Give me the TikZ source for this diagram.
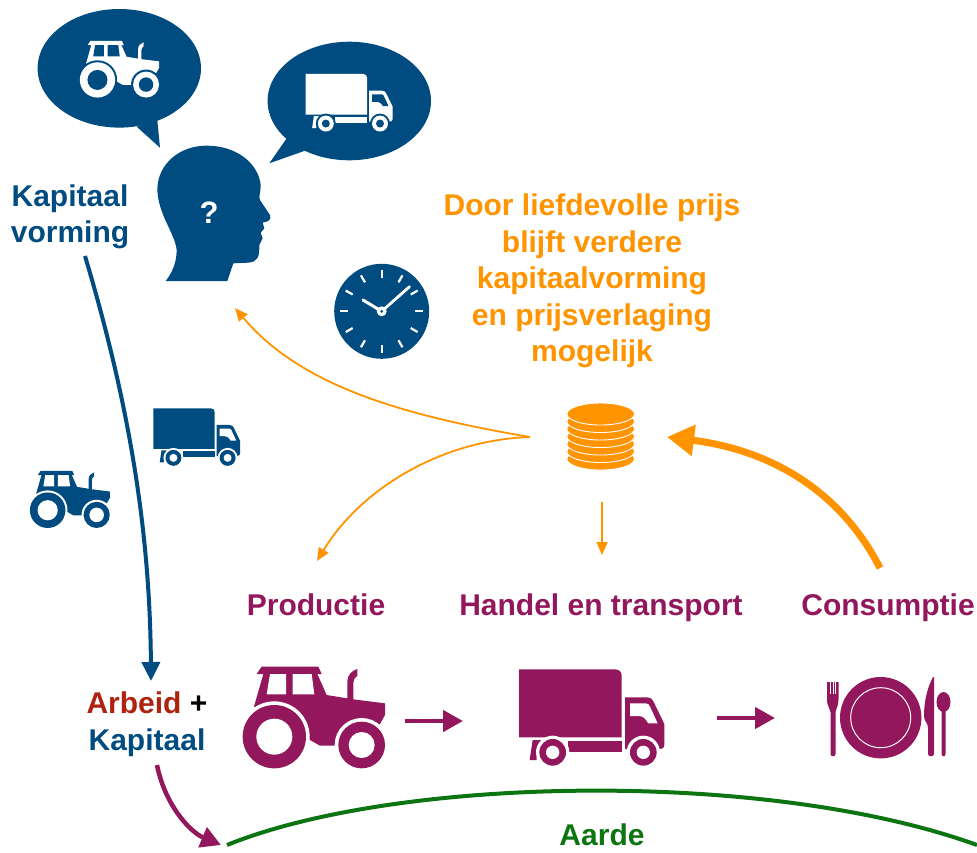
\documentclass[tikz,border=0pt]{standalone}
\usepackage{fontspec}
\setmainfont{Liberation Sans}
\usetikzlibrary{arrows.meta}
\definecolor{dblue}{HTML}{004C80}
\definecolor{dorange}{HTML}{FF9400}
\definecolor{dpurple}{HTML}{92175C}
\definecolor{dgreen}{HTML}{0C7410}
\definecolor{dred}{HTML}{AE2310}
\tikzset{
  iconfg/.store in=\iconfg, iconfg=dblue,
  iconbg/.store in=\iconbg, iconbg=white,
  tractoricon/.pic={
    \fill[\iconfg] (95,50)--(265,50)--(275,72)--(80,72)--cycle;
    \fill[\iconfg] (100,72)--(72,170)--(240,270)--(270,287)--(315,287)--(330,240)--(450,222)--(465,195)--(465,160)--(370,148)--(290,135)--(262,72)--cycle;
    \fill[\iconfg] (72,170)--(130,150)--(240,270)--cycle;
    \fill[\iconbg] (120,72)--(168,72)--(168,133)--(110,133)--cycle;
    \fill[\iconbg] (188,72)--(245,72)--(253,133)--(188,133)--cycle;
    \fill[\iconfg] (352,150)--(352,95) .. controls (352,75) and (365,62) .. (382,57)--(382,78) .. controls (372,85) and (370,90) .. (370,100)--(370,150)--cycle;
    \fill[\iconbg] (133,260) circle[radius=106];
    \fill[\iconfg] (133,260) circle[radius=95];
    \fill[\iconbg] (133,260) circle[radius=54];
    \fill[\iconbg] (395,285) circle[radius=81];
    \fill[\iconfg] (395,285) circle[radius=70];
    \fill[\iconbg] (395,285) circle[radius=39];
  },
  truckicon/.pic={
    \fill[\iconfg] (867,58)--(1155,58) .. controls (1168,58) and (1175,66) .. (1175,78)--(1175,262)--(867,262)--cycle;
    \fill[\iconfg] (1015,272)--(1175,272)--(1175,305)--(1015,305)--cycle;
    \fill[\iconfg] (908,270)--(935,270) .. controls (925,285) and (920,305) .. (920,330)--(899,330)--cycle;
    \fill[\iconfg] (1185,142)--(1250,142) .. controls (1262,142) and (1268,148) .. (1272,158)--(1303,222)--(1303,285) .. controls (1303,295) and (1295,297) .. (1285,297)--(1185,297)--cycle;
    \fill[\iconbg] (1200,160)--(1248,160) .. controls (1255,160) and (1258,165) .. (1260,170)--(1283,220)--(1255,220) .. controls (1245,205) and (1240,198) .. (1225,198)--(1200,198)--cycle;
    \fill[\iconbg] (968,307) circle[radius=50];
    \fill[\iconfg] (968,307) circle[radius=40];
    \fill[\iconbg] (968,307) circle[radius=20];
    \fill[\iconbg] (1240,307) circle[radius=50];
    \fill[\iconfg] (1240,307) circle[radius=40];
    \fill[\iconbg] (1240,307) circle[radius=20];
  },
  label/.style={inner sep=0pt,font=\fontsize{30}{36.5}\selectfont\bfseries,align=center},
  thinor/.style={draw=dorange,line width=1.8pt,-{Triangle[length=13pt,width=11pt]}},
  thickpur/.style={draw=dpurple,line width=4.5pt,-{Triangle[length=20pt,width=21pt]}},
}
\begin{document}
\begin{tikzpicture}[x=1pt,y=-1pt]
\useasboundingbox (0,0) rectangle (977,852);
% bubbles
\fill[dblue] (119.3,68.3) ellipse[x radius=81.7,y radius=59.3];
\fill[dblue] (136.7,126.7)--(160,147.7)--(157.3,120)--cycle;
\fill[dblue] (349.3,101) ellipse[x radius=81.7,y radius=59.3];
\fill[dblue] (286.7,138.3)--(269.3,163.3)--(305,150.7)--cycle;
\pic[iconfg=white,iconbg=dblue,scale=.1855] at (72.8,31.7) {tractoricon};
\pic[iconfg=white,iconbg=dblue,scale=.1992] at (133,62.4) {truckicon};
% head
\fill[dblue,shift={(20,0)},scale=1/3] (437,843) .. controls (455,820) and (470,790) .. (470,750)
  .. controls (465,700) and (412,640) .. (412,565)
  .. controls (415,490) and (480,437) .. (560,437)
  .. controls (650,437) and (715,490) .. (722,555)
  .. controls (722,580) and (715,590) .. (720,600)
  -- (750,645) .. controls (755,660) and (745,665) .. (728,668)
  -- (733,685) -- (722,698) -- (728,715) -- (718,735)
  .. controls (718,770) and (715,785) .. (685,788)
  -- (640,790) -- (622,843) -- cycle;
\node[text=white,inner sep=0pt,font=\fontsize{31}{31}\selectfont\bfseries] (q) at (209,213) {?};
% clock
\fill[dblue] (381.7,311.3) circle[radius=47.5];
\foreach \a in {0,30,...,330}
  \draw[white,line width=2.2pt] (381.7,311.3)+(\a:33.5) -- +(\a:41.5);
\draw[white,line width=2.8pt,line cap=round] (381.7,311.3) -- (409.5,286.7);
\draw[white,line width=3pt,line cap=round] (381.7,311.3) -- (363,300);
\fill[white] (381.7,311.3) circle[radius=5];
\fill[dblue] (381.7,311.3) circle[radius=1.5];
% coins
\foreach \y in {459,451.5,444,436.5,429,421.5,414}
  \filldraw[fill=dorange,draw=white,line width=.9pt] (600.7,\y) ellipse[x radius=33.8,y radius=11];
% texts
\node[label,text=dblue] (kv) at (70,217) {Kapitaal\\vorming};
\node[label,text=dorange] (door) at (592,281) {Door liefdevolle prijs\\blijft verdere\\kapitaalvorming\\en prijsverlaging\\mogelijk};
\node[label,text=dpurple,anchor=base] (prod) at (316,615) {Productie};
\node[label,text=dpurple,anchor=base] (hand) at (601,615) {Handel en transport};
\node[label,text=dpurple,anchor=base] (cons) at (888,615) {Consumptie};
\node[label] (ak) at (147,724) {\textcolor{dred}{Arbeid} +\\\textcolor{dblue}{Kapitaal}};
\node[label,text=dgreen,anchor=base] (aarde) at (602,845.5) {Aarde};
% icons
\pic[scale=.187] at (22.8,461.6) {tractoricon};
\pic[scale=.1992] at (-19.4,396.7) {truckicon};
\pic[iconfg=dpurple,scale=1/3] at (230,650) {tractoricon};
\pic[iconfg=dpurple,scale=1/3] at (230,650) {truckicon};
% plate
\coordinate (pl) at (880.7,717.7);
\fill[dpurple] (pl) circle[radius=40.7];
\draw[white,line width=1pt] (pl) circle[radius=30];
% fork
\fill[dpurple] (828.5,682)--(838.5,682)--(838.5,700) .. controls (838.5,706) and (836,708) .. (835.5,712)--(835.5,754) .. controls (835.5,757) and (830.5,757) .. (830.5,754)--(830.5,712) .. controls (830,708) and (827,706) .. (827,700)--(827,682)--(828.5,682)--cycle;
\draw[white,line width=.5pt] (830.5,682)--(830.5,694) (833,682)--(833,694) (835.5,682)--(835.5,694);
% knife
\fill[dpurple] (933,677) .. controls (926,690) and (924,705) .. (924,716) .. controls (924,722) and (928,722) .. (928,728)--(928,754) .. controls (928,757) and (934,757) .. (934,754)--(934,677)--cycle;
% spoon
\fill[dpurple] (943.5,702) ellipse[x radius=7,y radius=10];
\fill[dpurple] (941.5,708)--(945.5,708)--(945.5,754) .. controls (945.5,757) and (941.5,757) .. (941.5,754)--cycle;
% connector ends
\coordinate (a1) at (85,256); \coordinate (a2) at (151,681);
\coordinate (b1) at (530,437); \coordinate (b2) at (235,308); \coordinate (b3) at (317,561);
\coordinate (c1) at (602,502); \coordinate (c2) at (602,555);
\coordinate (d1) at (880,568); \coordinate (d2) at (667,437);
\coordinate (e1) at (405,721); \coordinate (e2) at (463,721);
\coordinate (f1) at (717,718); \coordinate (f2) at (775,718);
\coordinate (g1) at (157,765); \coordinate (g2) at (221,845);
\coordinate (h1) at (227,845); \coordinate (h2) at (977,845);
% connectors
\draw[dblue,line width=4pt,-{Triangle[length=19pt,width=18pt]}] (a1) .. controls (125,390) and (150,520) .. (a2);
\draw[thinor] (b1) .. controls (400,415) and (300,385) .. (b2);
\draw[thinor] (b1) .. controls (440,440) and (360,490) .. (b3);
\draw[thinor] (c1) -- (c2);
\draw[dorange,line width=7pt,-{Triangle[length=27pt,width=30pt]}] (d1) .. controls (840,490) and (770,450) .. (d2);
\draw[thickpur] (e1) -- (e2);
\draw[thickpur] (f1) -- (f2);
\draw[thickpur] (g1) .. controls (165,805) and (190,832) .. (g2);
\draw[dgreen,line width=4pt] (h1) .. controls (400,775) and (770,770) .. (h2);
\end{tikzpicture}
\end{document}
